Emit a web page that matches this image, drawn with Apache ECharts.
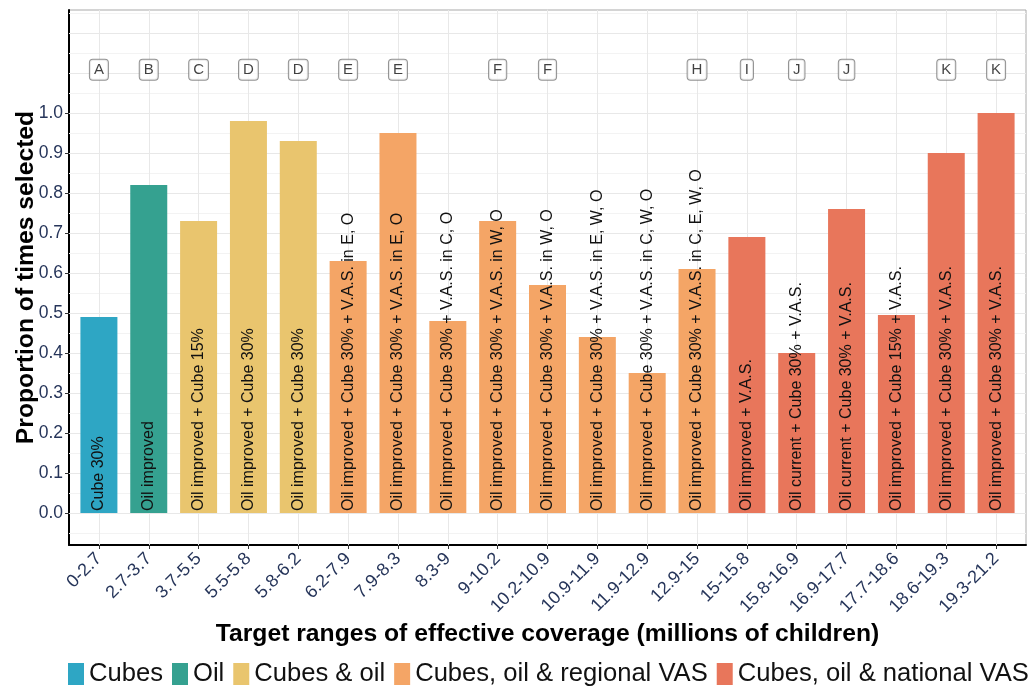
<!DOCTYPE html>
<html>
<head>
<meta charset="utf-8">
<script src="https://cdn.jsdelivr.net/npm/echarts@6/dist/echarts.min.js"></script>
<style>
  html, body { margin: 0; padding: 0; background: #fff; }
  #chart { width: 1035px; height: 687px; }
</style>
</head>
<body>
<div id="chart"></div>
<script>
// Target ranges of effective coverage (millions of children)
const ranges = ['0-2.7', '2.7-3.7', '3.7-5.5', '5.5-5.8', '5.8-6.2', '6.2-7.9', '7.9-8.3',
  '8.3-9', '9-10.2', '10.2-10.9', '10.9-11.9', '11.9-12.9', '12.9-15', '15-15.8',
  '15.8-16.9', '16.9-17.7', '17.7-18.6', '18.6-19.3', '19.3-21.2'];

// Proportion of times each strategy was selected
const proportion = [0.49, 0.82, 0.73, 0.98, 0.93, 0.63, 0.95, 0.48, 0.73, 0.57,
  0.44, 0.35, 0.61, 0.69, 0.40, 0.76, 0.495, 0.90, 1.00];

// Strategy printed inside each bar
const strategy = [
  'Cube 30%',
  'Oil improved',
  'Oil improved + Cube 15%',
  'Oil improved + Cube 30%',
  'Oil improved + Cube 30%',
  'Oil improved + Cube 30% + V.A.S. in E, O',
  'Oil improved + Cube 30% + V.A.S. in E, O',
  'Oil improved + Cube 30% + V.A.S. in C, O',
  'Oil improved + Cube 30% + V.A.S. in W, O',
  'Oil improved + Cube 30% + V.A.S. in W, O',
  'Oil improved + Cube 30% + V.A.S. in E, W, O',
  'Oil improved + Cube 30% + V.A.S. in C, W, O',
  'Oil improved + Cube 30% + V.A.S. in C, E, W, O',
  'Oil improved + V.A.S.',
  'Oil current + Cube 30% + V.A.S.',
  'Oil current + Cube 30% + V.A.S.',
  'Oil improved + Cube 15% + V.A.S.',
  'Oil improved + Cube 30% + V.A.S.',
  'Oil improved + Cube 30% + V.A.S.'
];

// Intervention group of each bar
const groupOf = ['Cubes', 'Oil', 'Cubes & oil', 'Cubes & oil', 'Cubes & oil',
  'Cubes, oil & regional VAS', 'Cubes, oil & regional VAS', 'Cubes, oil & regional VAS',
  'Cubes, oil & regional VAS', 'Cubes, oil & regional VAS', 'Cubes, oil & regional VAS',
  'Cubes, oil & regional VAS', 'Cubes, oil & regional VAS',
  'Cubes, oil & national VAS', 'Cubes, oil & national VAS', 'Cubes, oil & national VAS',
  'Cubes, oil & national VAS', 'Cubes, oil & national VAS', 'Cubes, oil & national VAS'];

const groups = ['Cubes', 'Oil', 'Cubes & oil', 'Cubes, oil & regional VAS', 'Cubes, oil & national VAS'];
const groupColors = ['#2ea6c4', '#35a190', '#e9c56e', '#f4a566', '#e8765b'];

// Letter codes shown above the bars (blank = none)
const letters = ['A', 'B', 'C', 'D', 'D', 'E', 'E', '', 'F', 'F', '', '', 'H', 'I', 'J', 'J', '', 'K', 'K'];
const letterLevel = 1.108;

// Axis ticks and grid lines
const yTicks = [0, 0.1, 0.2, 0.3, 0.4, 0.5, 0.6, 0.7, 0.8, 0.9, 1.0];
const yGridMajor = [0, 0.1, 0.2, 0.3, 0.4, 0.5, 0.6, 0.7, 0.8, 0.9, 1.0, 1.1, 1.2];
const yGridMinor = [-0.05, 0.05, 0.15, 0.25, 0.35, 0.45, 0.55, 0.65, 0.75, 0.85, 0.95, 1.05, 1.15, 1.25];
const xTicks = ranges.map((_, i) => i);

const chart = echarts.init(document.getElementById('chart'), null, { renderer: 'canvas' });

const FONT = '"Liberation Sans", Arial, sans-serif';
const NAVY = '#26355a';

const gridLines = []
  .concat(yGridMinor.map(v => ({ yAxis: v, lineStyle: { color: '#f3f3f3', width: 1, type: 'solid' } })))
  .concat(yGridMajor.map(v => ({ yAxis: v, lineStyle: { color: '#e8e8e8', width: 1, type: 'solid' } })))
  .concat(xTicks.map(v => ({ xAxis: v, lineStyle: { color: '#e8e8e8', width: 1, type: 'solid' } })));

const barSeries = groups.map((g, gi) => {
  const data = [];
  proportion.forEach((v, i) => {
    if (groupOf[i] === g) data.push([i, v]);
  });
  const s = {
    name: g,
    type: 'bar',
    data: data,
    barWidth: 37,
    barGap: '-100%',
    z: 3,
    itemStyle: { color: groupColors[gi] },
    label: {
      show: true,
      position: 'insideBottom',
      rotate: 90,
      align: 'left',
      verticalAlign: 'middle',
      distance: 2,
      fontFamily: FONT,
      fontSize: 16,
      color: '#111',
      formatter: p => strategy[p.value[0]]
    },
    emphasis: { disabled: true },
    animation: false
  };
  if (gi === 0) {
    s.markLine = {
      silent: true,
      z: 1,
      symbol: ['none', 'none'],
      label: { show: false },
      animation: false,
      data: gridLines
    };
  }
  return s;
});

const letterSeries = {
  name: 'letters',
  type: 'scatter',
  symbolSize: 1,
  itemStyle: { color: 'rgba(0,0,0,0)' },
  z: 4,
  data: letters.map((l, i) => [i, letterLevel, l]).filter(d => d[2] !== ''),
  label: {
    show: true,
    position: 'inside',
    formatter: p => p.value[2],
    fontFamily: FONT,
    fontSize: 15,
    color: '#111',
    backgroundColor: '#fff',
    borderColor: '#777',
    borderWidth: 1,
    borderRadius: 3,
    padding: [2, 4, 1, 4],
    lineHeight: 17
  },
  emphasis: { disabled: true },
  animation: false
};

chart.setOption({
  backgroundColor: '#fff',
  animation: false,
  textStyle: { fontFamily: FONT },
  grid: {
    left: 69, right: 9, top: 10, bottom: 142,
    outerBoundsMode: 'none',
    containLabel: false,
    show: true, borderColor: '#a9a9a9', borderWidth: 1, backgroundColor: '#fff'
  },
  legend: {
    data: groups,
    left: 68,
    top: 661,
    width: 967,
    padding: 0,
    itemWidth: 16,
    itemHeight: 22,
    itemGap: 9,
    icon: 'rect',
    textStyle: { fontFamily: FONT, fontSize: 25.6, color: '#111' },
    selectedMode: false
  },
  xAxis: {
    type: 'value',
    min: -0.6,
    max: 18.6,
    name: 'Target ranges of effective coverage (millions of children)',
    nameLocation: 'middle',
    nameGap: 77,
    nameMoveOverlap: false,
    nameTextStyle: { fontFamily: FONT, fontSize: 24.7, fontWeight: 'bold', color: '#000' },
    axisLine: { show: true, onZero: false, lineStyle: { color: '#000', width: 2 } },
    axisTick: { show: true, customValues: xTicks, length: 4, lineStyle: { color: '#333', width: 1 } },
    axisLabel: {
      customValues: xTicks,
      rotate: 45,
      margin: 11,
      fontFamily: FONT,
      fontSize: 18,
      color: NAVY,
      formatter: v => ranges[Math.round(v)]
    },
    splitLine: { show: false }
  },
  yAxis: {
    type: 'value',
    min: -0.08,
    max: 1.2575,
    name: 'Proportion of times selected',
    nameLocation: 'middle',
    nameGap: 30,
    nameMoveOverlap: false,
    nameTextStyle: { fontFamily: FONT, fontSize: 24.7, fontWeight: 'bold', color: '#000' },
    axisLine: { show: true, onZero: false, lineStyle: { color: '#000', width: 2 } },
    axisTick: { show: true, customValues: yTicks, length: 4, lineStyle: { color: '#333', width: 1 } },
    axisLabel: {
      customValues: yTicks,
      margin: 6,
      fontFamily: FONT,
      fontSize: 17.5,
      color: NAVY,
      formatter: v => v.toFixed(1)
    },
    splitLine: { show: false }
  },
  series: barSeries.concat([letterSeries])
});
</script>
</body>
</html>
